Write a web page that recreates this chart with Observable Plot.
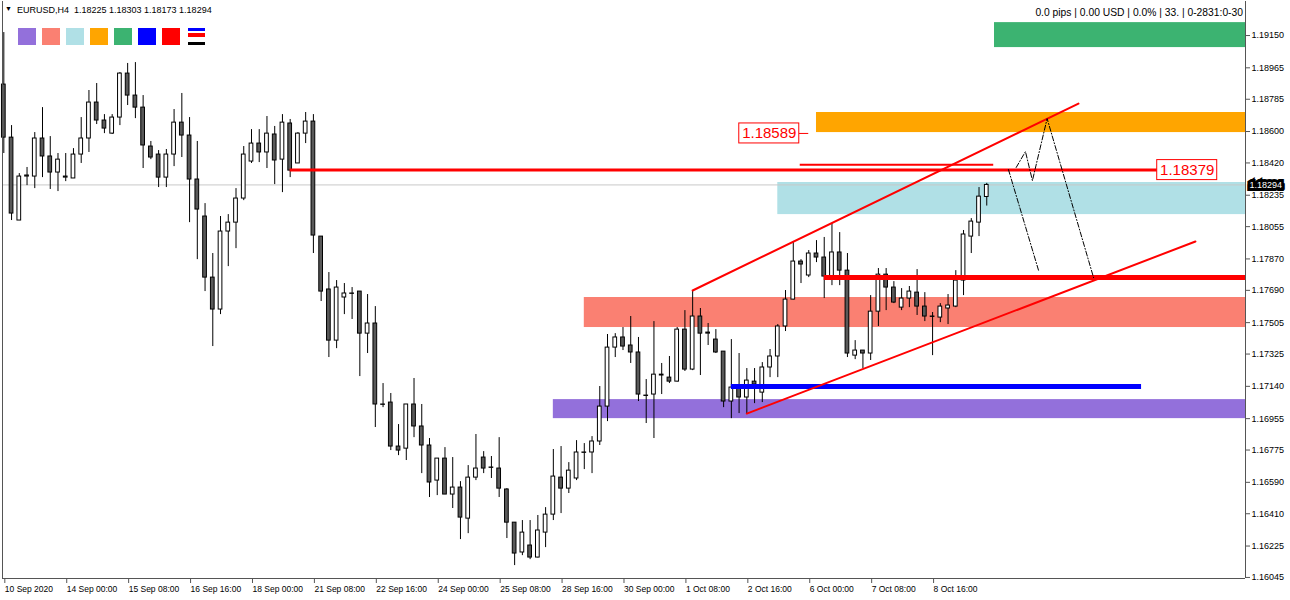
<!DOCTYPE html>
<html><head><meta charset="utf-8">
<script src="https://cdn.jsdelivr.net/npm/d3@7"></script>
<script src="https://cdn.jsdelivr.net/npm/@observablehq/plot@0.6"></script>
<style>
body{margin:0;background:#fff;font-family:"Liberation Sans",Arial,sans-serif;}
#wrap{position:relative;width:1290px;height:600px;overflow:hidden;background:#fff;}
#chart{position:absolute;left:0;top:0;}
.title{position:absolute;left:17px;top:5px;font-size:9px;color:#000;white-space:pre;}
.tri{position:absolute;left:5px;top:5px;font-size:7px;}
.info{position:absolute;right:47px;top:7px;font-size:10.3px;color:#000;white-space:pre;}
.sw{position:absolute;top:28px;width:18px;height:17px;}
.bar{position:absolute;left:188px;width:17px;}
</style></head><body><div id="wrap"><div id="chart"></div>
<div class="tri">▼</div>
<div class="title">EURUSD,H4  1.18225 1.18303 1.18173 1.18294</div>
<div class="info">0.0 pips | 0.00 USD | 0.0% | 33. | 0-2831:0-30</div>
</div>
<script>
// ---- OHLC of 128 H4 bars, 10 Sep 2020 16:00 .. 9 Oct 2020 16:00 ----
const opens = [1.18869,1.18565,1.18090,1.18342,1.18342,1.18560,1.18457,1.18365,1.18336,1.18331,
1.18468,1.18560,1.18766,1.18663,1.18588,1.18680,1.18932,1.18806,1.18737,1.18514,
1.18468,1.18336,1.18468,1.18651,1.18577,1.18325,1.18113,1.17763,1.17580,1.18027,
1.18078,1.18216,1.18428,1.18531,1.18480,1.18583,1.18439,1.18646,1.18417,1.18588,
1.18657,1.17998,1.17695,1.17402,1.17649,1.17672,1.17683,1.17442,1.17500,1.17036,
1.17047,1.16795,1.16783,1.17036,1.16910,1.16801,1.16600,1.16726,1.16520,1.16560,
1.16382,1.16617,1.16732,1.16675,1.16669,1.16549,1.16359,1.16188,1.16228,1.16159,
1.16302,1.16405,1.16617,1.16554,1.16612,1.16761,1.16761,1.16824,1.17024,1.17362,
1.17420,1.17374,1.17334,1.17087,1.17093,1.17202,1.17190,1.17167,1.17465,1.17236,
1.17540,1.17442,1.17408,1.17339,1.17053,1.17133,1.17076,1.17167,1.17104,1.17248,
1.17311,1.17483,1.17637,1.17855,1.17775,1.17901,1.17878,1.17763,1.17907,1.17803,
1.17316,1.17345,1.17328,1.17568,1.17780,1.17706,1.17591,1.17643,1.17677,1.17597,
1.17540,1.17534,1.17586,1.17597,1.17746,1.17998,1.18078,1.18225];
const highs = [1.19167,1.18634,1.18359,1.18394,1.18594,1.18737,1.18571,1.18474,1.18474,1.18502,
1.18680,1.18835,1.18875,1.18697,1.18697,1.18938,1.18990,1.18995,1.18806,1.18543,
1.18491,1.18497,1.18726,1.18818,1.18680,1.18543,1.18187,1.17901,1.18113,1.18124,
1.18273,1.18514,1.18611,1.18611,1.18686,1.18629,1.18697,1.18669,1.18594,1.18709,
1.18697,1.17998,1.17792,1.17746,1.17729,1.17706,1.17683,1.17666,1.17597,1.17156,
1.17099,1.16921,1.17036,1.17185,1.17036,1.16841,1.16726,1.16789,1.16732,1.16594,
1.16686,1.16864,1.16766,1.16738,1.16846,1.16554,1.16359,1.16371,1.16371,1.16400,
1.16445,1.16778,1.16795,1.16703,1.16829,1.16812,1.16852,1.17139,1.17437,1.17442,
1.17477,1.17540,1.17420,1.17179,1.17511,1.17271,1.17311,1.17477,1.17574,1.17689,
1.17586,1.17500,1.17465,1.17339,1.17408,1.17328,1.17242,1.17242,1.17276,1.17351,
1.17494,1.17689,1.17970,1.17866,1.17918,1.17975,1.17993,1.18073,1.18021,1.17901,
1.17402,1.17345,1.17660,1.17815,1.17815,1.17740,1.17700,1.17712,1.17809,1.17677,
1.17563,1.17614,1.17666,1.17803,1.18033,1.18101,1.18279,1.18303];
const lows = [1.18474,1.18090,1.18090,1.18290,1.18273,1.18336,1.18268,1.18256,1.18313,1.18331,
1.18417,1.18480,1.18640,1.18588,1.18583,1.18634,1.18749,1.18674,1.18388,1.18439,
1.18279,1.18279,1.18399,1.18451,1.18078,1.17866,1.17683,1.17368,1.17551,1.17826,
1.17929,1.18204,1.18417,1.18422,1.18388,1.18296,1.18250,1.18336,1.18417,1.18531,
1.17901,1.17626,1.17305,1.17356,1.17551,1.17523,1.17196,1.17328,1.16904,1.17018,
1.16772,1.16743,1.16715,1.16846,1.16640,1.16503,1.16514,1.16520,1.16440,1.16262,
1.16296,1.16600,1.16640,1.16612,1.16503,1.16268,1.16113,1.16170,1.16147,1.16157,
1.16216,1.16371,1.16411,1.16526,1.16600,1.16663,1.16640,1.16801,1.16938,1.17305,
1.17345,1.17271,1.17053,1.16927,1.16841,1.17093,1.17156,1.17165,1.17225,1.17230,
1.17202,1.17374,1.17328,1.17018,1.16955,1.16984,1.16984,1.17041,1.17047,1.17190,
1.17190,1.17454,1.17635,1.17729,1.17763,1.17849,1.17643,1.17717,1.17717,1.17305,
1.17293,1.17242,1.17288,1.17483,1.17574,1.17614,1.17574,1.17591,1.17546,1.17511,
1.17316,1.17505,1.17494,1.17591,1.17660,1.17901,1.17998,1.18173];
const closes = [1.18565,1.18130,1.18342,1.18348,1.18560,1.18457,1.18365,1.18439,1.18342,1.18468,
1.18560,1.18766,1.18663,1.18617,1.18680,1.18932,1.18806,1.18737,1.18520,1.18451,
1.18336,1.18468,1.18651,1.18577,1.18325,1.18153,1.17763,1.17580,1.18027,1.18078,
1.18216,1.18468,1.18531,1.18480,1.18588,1.18434,1.18651,1.18376,1.18588,1.18657,
1.18004,1.17683,1.17402,1.17706,1.17672,1.17670,1.17442,1.17500,1.17036,1.17034,
1.16795,1.16772,1.17036,1.16910,1.16801,1.16589,1.16726,1.16520,1.16560,1.16388,
1.16617,1.16669,1.16669,1.16673,1.16554,1.16359,1.16182,1.16302,1.16159,1.16314,
1.16405,1.16623,1.16554,1.16657,1.16761,1.16759,1.16824,1.17024,1.17362,1.17420,
1.17368,1.17334,1.17093,1.17085,1.17207,1.17207,1.17167,1.17465,1.17236,1.17540,
1.17442,1.17448,1.17334,1.17053,1.17133,1.17076,1.17173,1.17150,1.17248,1.17311,
1.17483,1.17637,1.17855,1.17838,1.17901,1.17878,1.17769,1.17907,1.17803,1.17328,
1.17345,1.17328,1.17568,1.17780,1.17706,1.17620,1.17643,1.17683,1.17597,1.17540,
1.17538,1.17597,1.17603,1.17746,1.18010,1.18084,1.18227,1.18294];

// ---- axis ticks ----
const dateTickBars = [0,8,16,24,32,40,48,56,64,72,80,88,96,104,112,120];
const dateTickLabels = ["10 Sep 2020","14 Sep 00:00","15 Sep 08:00","16 Sep 16:00","18 Sep 00:00",
"21 Sep 08:00","22 Sep 16:00","24 Sep 00:00","25 Sep 08:00","28 Sep 16:00","30 Sep 00:00",
"1 Oct 08:00","2 Oct 16:00","6 Oct 00:00","7 Oct 08:00","8 Oct 16:00"];
const priceTicks = [1.19150,1.18965,1.18785,1.18600,1.18420,1.18235,1.18055,1.17870,1.17690,
1.17505,1.17325,1.17140,1.16955,1.16775,1.16590,1.16410,1.16225,1.16045];

// ---- drawn objects (bar index / price) ----
const zoneStart  = [71, 75, 100, 105, 128];
const zoneTop    = [1.17064, 1.17649, 1.18308, 1.18709, 1.19224];
const zoneBottom = [1.16955, 1.17477, 1.18124, 1.18594, 1.19081];
const zoneColors = ["#9370DB", "#FA8072", "#B0E0E6", "#FFA500", "#3CB371"];

const levelPrice = [1.18379, 1.17763, 1.17139, 1.18410, 1.18589];
const levelStart = [37, 106, 94, 102.9, 102.8];
const levelEnd   = [149.1, null, 147, 127.9, 104];
const levelColor = ["#FF0000", "#FF0000", "#0000FF", "#FF0000", "#FF0000"];
const levelWidth = [3, 5, 5, 2, 1];

const upperChannel = [[89, 1.17689], [138.85, 1.18760]];
const lowerChannel = [[96, 1.16984], [153.96, 1.17970]];
const projectionA = [[129.8, 1.18382], [133.7, 1.17803]];
const projectionB = [[130.8, 1.18394], [132.0, 1.18485], [132.9, 1.18319], [134.8, 1.18674], [140.8, 1.17763]];

const priceLabelBar   = [152.9, 98.9];
const priceLabelValue = [1.18379, 1.18589];

const swatchColors = ["#9370DB", "#FA8072", "#B0E0E6", "#FFA500", "#3CB371", "#0000FF", "#FF0000"];

// ---- build tables ----
const xMin = -0.17, xMax = 160.43;
const candles = opens.map((o, i) => ({i, open: o, high: highs[i], low: lows[i], close: closes[i]}));
const zones = zoneStart.map((s, k) => ({start: s, end: xMax, top: zoneTop[k], bottom: zoneBottom[k], color: zoneColors[k]}));
const levels = levelPrice.map((p, k) => ({price: p, start: levelStart[k], end: levelEnd[k] ?? xMax, color: levelColor[k], width: levelWidth[k]}));
const priceLabels = priceLabelBar.map((b, k) => ({i: b, price: priceLabelValue[k]}));
const lastClose = closes[closes.length - 1];
const dateLabelMap = new Map(dateTickBars.map((b, k) => [b, dateTickLabels[k]]));
const P = d => ({x: d[0], y: d[1]});

const chart = Plot.plot({
  width: 1290, height: 600,
  marginTop: 1, marginBottom: 22, marginLeft: 2, marginRight: 45,
  x: {domain: [xMin, xMax]},
  y: {domain: [1.16039, 1.19345]},
  color: {type: "identity"},
  style: {fontFamily: "Liberation Sans, Arial, sans-serif", background: "#fff", color: "#000"},
  marks: [
    Plot.rect(zones, {x1: "start", x2: "end", y1: "bottom", y2: "top", fill: "color"}),
    Plot.ruleY([lastClose], {stroke: "#c8c8c8", strokeWidth: 1}),
    Plot.ruleX(candles, {x: "i", y1: "low", y2: "high", stroke: "#000", strokeWidth: 1}),
    Plot.rect(candles, {x1: d => d.i - 0.24, x2: d => d.i + 0.24, y1: "open", y2: "close",
      fill: d => d.close >= d.open ? "#ffffff" : "#595959", stroke: "#000", strokeWidth: 1}),
    ...levels.map(l => Plot.ruleY([l], {y: "price", x1: "start", x2: "end", stroke: l.color, strokeWidth: l.width})),
    Plot.line(upperChannel.map(P), {x: "x", y: "y", stroke: "#FF0000", strokeWidth: 2}),
    Plot.line(lowerChannel.map(P), {x: "x", y: "y", stroke: "#FF0000", strokeWidth: 2}),
    Plot.line(projectionA.map(P), {x: "x", y: "y", stroke: "#000", strokeWidth: 1, strokeDasharray: "5,2,1,2"}),
    Plot.line(projectionB.map(P), {x: "x", y: "y", stroke: "#000", strokeWidth: 1, strokeDasharray: "5,2,1,2"}),
    Plot.rect(priceLabels, {x1: "i", x2: "i", y1: "price", y2: "price",
      insetLeft: -30, insetRight: -30, insetTop: -10, insetBottom: -10, fill: "#fff", stroke: "#FF0000", strokeWidth: 1}),
    Plot.text(priceLabels, {x: "i", y: "price", text: d => d.price.toFixed(5), fill: "#FF0000", fontSize: 15}),
    Plot.ruleX([xMin, xMax], {stroke: "#555"}),
    Plot.ruleY([1.16039], {stroke: "#555"}),
    Plot.axisY(priceTicks, {anchor: "right", tickFormat: d => d.toFixed(5), tickSize: 4, tickPadding: 2, fontSize: 9, stroke: "#555"}),
    Plot.axisX(dateTickBars, {anchor: "bottom", tickFormat: d => dateLabelMap.get(d), tickSize: 5, tickPadding: 2,
      textAnchor: "start", dx: 1, fontSize: 8.5, stroke: "#555"}),
    Plot.text([lastClose], {y: d => d, frameAnchor: "right", dx: 4, textAnchor: "start", text: d => d.toFixed(5),
      fill: "#fff", stroke: "#000", strokeWidth: 6, strokeLinejoin: "miter", paintOrder: "stroke", fontSize: 9})
  ]
});
document.getElementById("chart").appendChild(chart);

// toolbar swatches
const wrap = document.getElementById("wrap");
swatchColors.forEach((c, k) => {
  const s = document.createElement("div");
  s.className = "sw"; s.style.left = (18 + 24 * k) + "px"; s.style.background = c;
  wrap.appendChild(s);
});
[["#0000FF", 28, 3], ["#FF0000", 33, 4], ["#000000", 42, 3]].forEach(([c, t, h]) => {
  const b = document.createElement("div");
  b.className = "bar"; b.style.top = t + "px"; b.style.height = h + "px"; b.style.background = c;
  wrap.appendChild(b);
});
</script>
</body></html>
